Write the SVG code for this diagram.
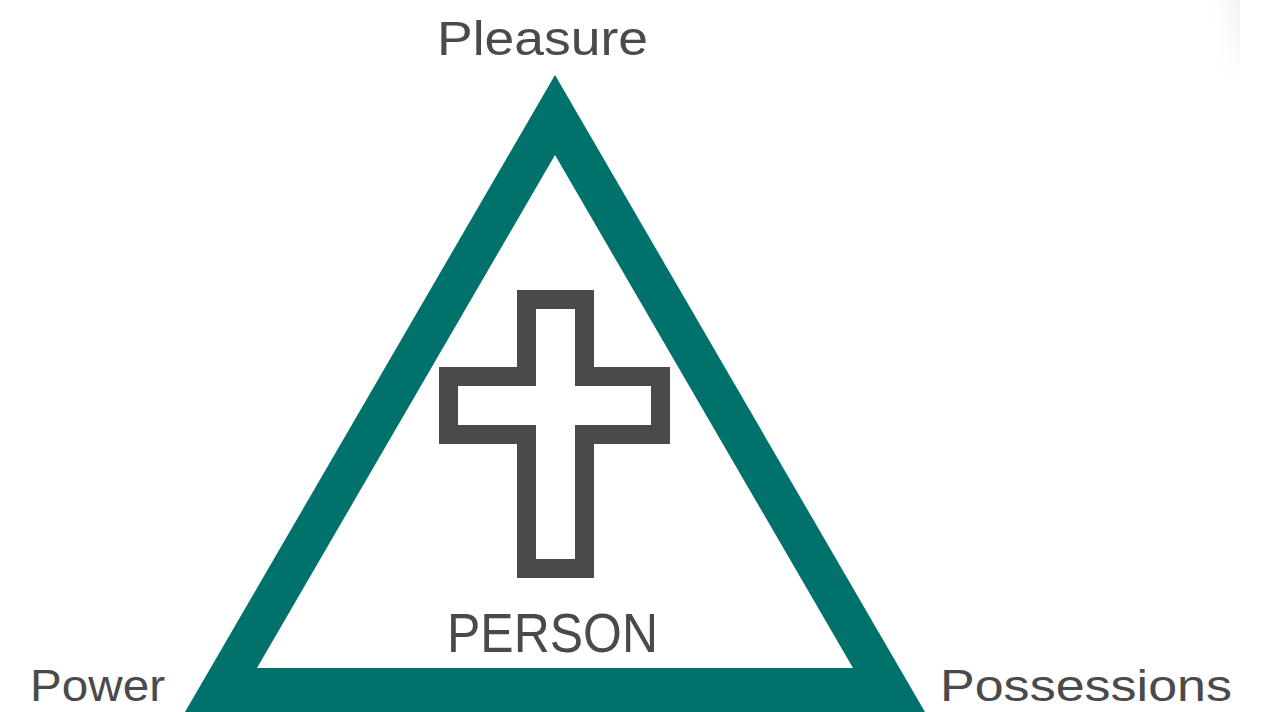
<svg xmlns="http://www.w3.org/2000/svg" width="1261" height="712" viewBox="0 0 1261 712">
<defs>
<style>
.lbl{font-family:"Liberation Sans","DejaVu Sans",sans-serif;fill:#4a4a4a;}
</style>
<linearGradient id="shade" x1="0" y1="0" x2="1" y2="0">
<stop offset="0" stop-color="#ffffff" stop-opacity="0"/>
<stop offset="1" stop-color="#e8e8e8"/>
</linearGradient>
<linearGradient id="fade" x1="0" y1="0" x2="0" y2="1">
<stop offset="0" stop-color="#ffffff"/>
<stop offset="1" stop-color="#000000"/>
</linearGradient>
<mask id="fm"><rect x="1200" y="0" width="40" height="85" fill="url(#fade)"/></mask>
</defs>
<rect width="1261" height="712" fill="#ffffff"/>
<rect x="1205" y="0" width="35" height="85" fill="url(#shade)" opacity="0.6" mask="url(#fm)"/>
<g id="triangle">
<path d="M555 75 L925 712 L185 712 Z M555 155 L257 668 L853 668 Z" fill="#00726b" fill-rule="evenodd"/>
</g>
<g id="cross">
<path d="M526.5 299.5 H584.5 V376.5 H660.5 V434.5 H584.5 V568.5 H526.5 V434.5 H448.5 V376.5 H526.5 Z" fill="#ffffff" stroke="#4a4a4a" stroke-width="19"/>
</g>
<g id="connectors"></g>
<g id="pleasure"><text class="lbl" x="437" y="55" font-size="48" textLength="211" lengthAdjust="spacingAndGlyphs">Pleasure</text></g>
<g id="person"><text class="lbl" x="447" y="652" font-size="55" textLength="211" lengthAdjust="spacingAndGlyphs">PERSON</text></g>
<g id="power"><text class="lbl" x="30" y="701" font-size="44" textLength="135" lengthAdjust="spacingAndGlyphs">Power</text></g>
<g id="possessions"><text class="lbl" x="940" y="701" font-size="44" textLength="292" lengthAdjust="spacingAndGlyphs">Possessions</text></g>
</svg>
